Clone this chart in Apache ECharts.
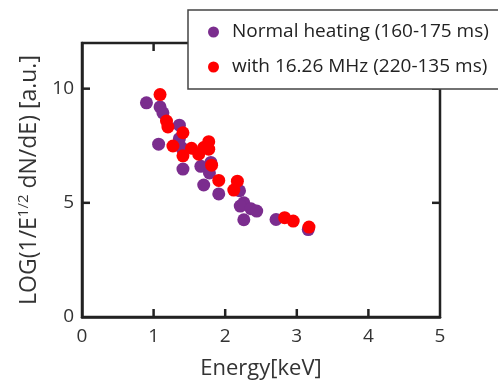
<!DOCTYPE html>
<html><head><meta charset="utf-8">
<script src="https://cdn.jsdelivr.net/npm/echarts@6/dist/echarts.min.js"></script>
<style>html,body{margin:0;padding:0;background:#fff}#c{width:498px;height:385px}</style>
</head><body><div id="c"></div>
<script>
var seriesNames = ['Normal heating (160-175 ms)', 'with 16.26 MHz (220-135 ms)'];
var normalX = [0.90, 1.09, 1.13, 1.36, 1.36, 1.07, 1.39, 1.80, 1.66, 1.41, 1.78, 1.70, 1.91, 2.20, 2.26, 2.21, 2.36, 2.44, 2.26, 2.71, 3.16];
var normalY = [9.38, 9.20, 8.94, 8.40, 7.81, 7.57, 7.42, 6.77, 6.60, 6.48, 6.31, 5.78, 5.39, 5.53, 5.00, 4.86, 4.74, 4.64, 4.26, 4.27, 3.83];
var rfX = [1.09, 1.18, 1.20, 1.41, 1.27, 1.41, 1.53, 1.63, 1.70, 1.77, 1.77, 1.81, 1.91, 2.17, 2.12, 2.83, 2.95, 3.17];
var rfY = [9.74, 8.58, 8.32, 8.07, 7.49, 7.06, 7.39, 7.13, 7.42, 7.68, 7.35, 6.65, 5.98, 5.95, 5.56, 4.35, 4.20, 3.94];
var xTicks = [0, 1, 2, 3, 4, 5];
var yTicks = [0, 5, 10];
var yMax = 12;

function pairs(xs, ys) { return xs.map(function (x, i) { return [x, ys[i]]; }); }

var FONT = 'Open Sans';
var LINE = '#222';
var TICK_LEN = 8;
var TICK_W = 2.5;
var xMin = xTicks[0], xMax = xTicks[xTicks.length - 1], yMin = yTicks[0];

// inner tick marks on all four sides of the frame, placed through the chart's scales
var innerX = xTicks.slice(1, -1);
var innerY = yTicks.slice(1);
var bottomTickData = innerX.map(function (v) { return [v, yMin]; });
var topTickData = innerX.map(function (v) { return [v, yMax]; });
var leftTickData = innerY.map(function (v) { return [xMin, v]; });
var rightTickData = innerY.map(function (v) { return [xMax, v]; });

function tickSeries(name, data, vertical, sign) {
  return {
    name: name, type: 'scatter', silent: true, z: 3, clip: false,
    symbol: 'rect',
    symbolSize: vertical ? [TICK_W, TICK_LEN] : [TICK_LEN, TICK_W],
    symbolOffset: vertical ? [0, sign * TICK_LEN / 2] : [sign * TICK_LEN / 2, 0],
    itemStyle: { color: LINE, opacity: 1 },
    data: data
  };
}

var chart = echarts.init(document.getElementById('c'));
chart.setOption({
  animation: false,
  textStyle: { fontFamily: FONT },
  grid: { left: 82, right: 58, top: 43, bottom: 66, containLabel: false,
          show: true, borderColor: LINE, borderWidth: 2.5, backgroundColor: 'transparent' },
  legend: {
    left: 188, top: 10, orient: 'vertical',
    backgroundColor: '#fff', borderColor: '#444', borderWidth: 1.5,
    padding: [9, 19, 9, 20], itemGap: 9, itemWidth: 11, itemHeight: 11,
    textStyle: { fontFamily: FONT, fontSize: 19, color: '#222', padding: [0, 0, 0, 8], lineHeight: 26 },
    data: [{ name: seriesNames[0], icon: 'circle' }, { name: seriesNames[1], icon: 'circle' }],
    z: 10
  },
  xAxis: {
    type: 'value', min: xMin, max: xMax, interval: 1,
    name: 'Energy[keV]', nameLocation: 'middle', nameGap: 41,
    nameTextStyle: { fontFamily: FONT, fontSize: 22, color: '#333' },
    axisLine: { show: true, onZero: false, lineStyle: { color: LINE, width: 2.5 } },
    axisTick: { show: false },
    splitLine: { show: false },
    axisLabel: { fontFamily: FONT, fontSize: 19, color: '#333', margin: 10 }
  },
  yAxis: {
    type: 'value', min: yMin, max: yMax, interval: 5,
    name: '{n|LOG(1/E}{s|1/2}{n| dN/dE) [a.u.]}', nameLocation: 'middle', nameGap: 38,
    nameTextStyle: {
      rich: {
        n: { fontFamily: FONT, fontSize: 23, color: '#333' },
        s: { fontFamily: FONT, fontSize: 15, color: '#333', verticalAlign: 'top', padding: [0, 0, 12, 0] }
      }
    },
    axisLine: { show: true, onZero: false, lineStyle: { color: LINE, width: 2.5 } },
    axisTick: { show: false },
    splitLine: { show: false },
    axisLabel: { fontFamily: FONT, fontSize: 19, color: '#333', margin: 8, showMaxLabel: false }
  },
  series: [{
    name: seriesNames[0], type: 'scatter', symbolSize: 13,
    itemStyle: { color: '#7B2D8E', opacity: 1 },
    data: pairs(normalX, normalY)
  }, {
    name: seriesNames[1], type: 'scatter', symbolSize: 13,
    itemStyle: { color: '#FF0000', opacity: 1 },
    data: pairs(rfX, rfY)
  },
  tickSeries('bottomTicks', bottomTickData, true, -1),
  tickSeries('topTicks', topTickData, true, 1),
  tickSeries('leftTicks', leftTickData, false, 1),
  tickSeries('rightTicks', rightTickData, false, -1)
  ]
});
</script></body></html>
